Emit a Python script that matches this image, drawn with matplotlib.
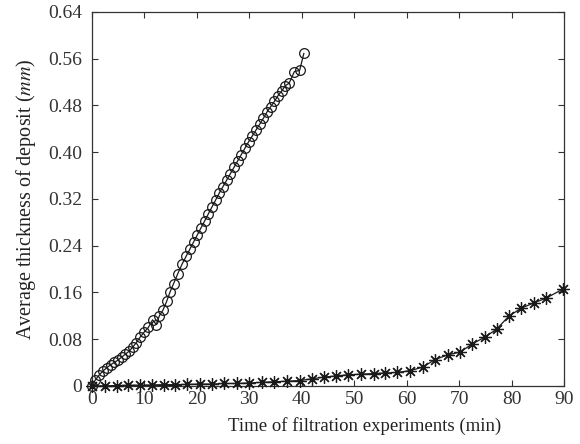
import matplotlib
matplotlib.use("Agg")
import matplotlib.pyplot as plt

plt.rcParams['font.family'] = ['Liberation Serif', 'DejaVu Serif']
plt.rcParams['mathtext.fontset'] = 'stix'

# Circle series (faster deposit growth)
circ_x = [0.0, 0.7, 1.4, 2.1, 2.9, 3.6, 4.3, 5.0, 5.7, 6.4, 7.1, 7.8, 8.5, 9.2,
          10.0, 10.8, 11.6, 12.3, 12.9, 13.6, 14.3, 14.9, 15.6, 16.4, 17.2, 18.0,
          18.7, 19.4, 20.1, 20.8, 21.5, 22.2, 22.9, 23.6, 24.3, 25.0, 25.7, 26.4,
          27.1, 27.8, 28.5, 29.2, 29.9, 30.6, 31.3, 32.0, 32.7, 33.4, 34.1, 34.8,
          35.5, 36.2, 36.9, 37.6, 38.6, 39.6, 40.4]
circ_y = [0.000, 0.010, 0.018, 0.025, 0.031, 0.036, 0.040, 0.044, 0.049, 0.054,
          0.059, 0.066, 0.074, 0.083, 0.092, 0.100, 0.113, 0.105, 0.120, 0.130,
          0.145, 0.160, 0.175, 0.192, 0.208, 0.222, 0.234, 0.246, 0.258, 0.270,
          0.282, 0.294, 0.306, 0.318, 0.330, 0.341, 0.352, 0.363, 0.374, 0.385,
          0.396, 0.407, 0.418, 0.428, 0.438, 0.448, 0.458, 0.469, 0.478, 0.487,
          0.497, 0.505, 0.514, 0.518, 0.538, 0.540, 0.569]

# Asterisk series (slower deposit growth)
star_x = [0.0, 2.6, 4.8, 7.0, 9.2, 11.5, 13.7, 15.9, 18.1, 20.6, 22.9, 25.2, 27.7,
          30.0, 32.5, 34.8, 37.2, 39.6, 41.9, 44.3, 46.6, 48.9, 51.3, 53.7, 55.9,
          58.2, 60.7, 63.0, 65.4, 67.8, 70.2, 72.5, 74.8, 77.1, 79.4, 81.8, 84.2,
          86.5, 89.8]
star_y = [0.000, 0.000, 0.0005, 0.001, 0.001, 0.0015, 0.002, 0.002, 0.0025, 0.003,
          0.003, 0.004, 0.004, 0.005, 0.006, 0.007, 0.008, 0.009, 0.012, 0.015,
          0.017, 0.019, 0.020, 0.021, 0.022, 0.023, 0.026, 0.032, 0.045, 0.053,
          0.058, 0.072, 0.083, 0.097, 0.119, 0.133, 0.142, 0.150, 0.166]

x_ticks = [0, 10, 20, 30, 40, 50, 60, 70, 80, 90]
y_ticks = [0, 0.08, 0.16, 0.24, 0.32, 0.40, 0.48, 0.56, 0.64]
y_tick_labels = ['0', '0.08', '0.16', '0.24', '0.32', '0.40', '0.48', '0.56', '0.64']

fig = plt.figure(figsize=(5.8, 4.44), dpi=100)
ax = fig.add_axes([0.158, 0.131, 0.815, 0.842])

line_col = '#1a1a1a'
ax.plot(circ_x, circ_y, color=line_col, lw=0.9, marker='o', ms=7,
        mfc='none', mec=line_col, mew=0.9, clip_on=False, zorder=3)
ax.plot(star_x, star_y, color=line_col, lw=0.9, marker=(8, 2, 0), ms=9,
        mec=line_col, mew=0.9, clip_on=False, zorder=3)

ax.set_xlim(0, 90)
ax.set_ylim(0, 0.64)
ax.set_xticks(x_ticks)
ax.set_yticks(y_ticks)
ax.set_yticklabels(y_tick_labels)
ax.tick_params(direction='in', top=True, right=True, length=4, width=0.8,
               labelsize=14, colors='#333333')
ax.tick_params(axis='x', pad=4)
ax.tick_params(axis='y', pad=7)
for s in ax.spines.values():
    s.set_color('#333333')
    s.set_linewidth(0.9)

ax.set_xlabel('Time of filtration experiments (min)', fontsize=13.5,
              color='#222222', labelpad=5)
ax.xaxis.set_label_coords(0.577, -0.083)
ax.set_ylabel(r'Average thickness of deposit ($\mathit{mm}$)', fontsize=14.5,
              color='#222222', labelpad=7)

fig.savefig('out.png', dpi=100)
